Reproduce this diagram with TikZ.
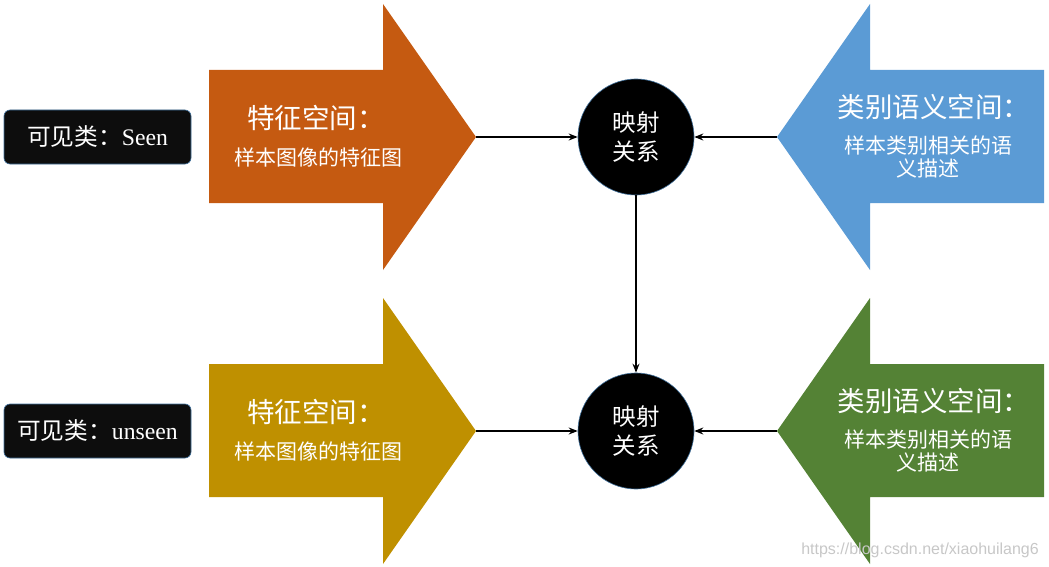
\documentclass[tikz,border=0pt]{standalone}
\usepackage{fontspec}
\setmainfont{Liberation Serif}
\newfontfamily\cjk{Noto Sans CJK SC}
\newfontfamily\wmfont{Liberation Sans}
\usetikzlibrary{arrows.meta}
\definecolor{corange}{HTML}{C55A11}
\definecolor{cgold}{HTML}{BF9000}
\definecolor{cblue}{HTML}{5B9BD5}
\definecolor{cgreen}{HTML}{548235}
\definecolor{cdark}{HTML}{0D0D0D}
\definecolor{cedge}{HTML}{41719C}
\begin{document}
\begin{tikzpicture}[x=1pt,y=-1pt,
  conn/.style={-{Stealth[length=9pt,width=7pt]}, line width=2.4pt, black},
  circ/.style={circle, fill=black, draw=cedge, line width=0.6pt, minimum size=116pt, inner sep=0pt,
    text=white, align=center, font=\cjk\fontsize{23.5}{29}\selectfont},
  lab/.style={rectangle, rounded corners=6pt, fill=cdark, draw=cedge, line width=0.6pt,
    minimum width=187pt, minimum height=54pt, inner sep=0pt, text=white, font=\fontsize{23.7}{26}\selectfont},
  ttl/.style={text=white, font=\cjk\fontsize{27.5}{30}\selectfont, inner sep=0pt},
  sub/.style={text=white, align=center, font=\cjk\fontsize{21}{23}\selectfont, inner sep=0pt}]
\useasboundingbox (0,0) rectangle (1049,567);

% top-left orange arrow
\fill[corange] (209,70) -- (383,70) -- (383,4) -- (476,137) -- (383,270) -- (383,203) -- (209,203) -- cycle;
\coordinate (tipA) at (476,137);
\node[ttl] (tA) at (316,118) {特征空间：};
\node[sub] (sA) at (318,157) {样本图像的特征图};

% bottom-left gold arrow
\fill[cgold] (209,364) -- (383,364) -- (383,298) -- (476,431) -- (383,564) -- (383,497) -- (209,497) -- cycle;
\coordinate (tipB) at (476,431);
\node[ttl] (tB) at (316,412) {特征空间：};
\node[sub] (sB) at (318,451) {样本图像的特征图};

% top-right blue arrow
\fill[cblue] (1044,70) -- (870,70) -- (870,4) -- (777,137) -- (870,270) -- (870,203) -- (1044,203) -- cycle;
\coordinate (tipC) at (777,137);
\node[ttl] (tC) at (934,107) {类别语义空间：};
\node[sub] (sC) at (928,157) {样本类别相关的语\\义描述};

% bottom-right green arrow
\fill[cgreen] (1044,364) -- (870,364) -- (870,298) -- (777,431) -- (870,564) -- (870,497) -- (1044,497) -- cycle;
\coordinate (tipD) at (777,431);
\node[ttl] (tD) at (934,401) {类别语义空间：};
\node[sub] (sD) at (928,451) {样本类别相关的语\\义描述};

% circles
\node[circ] (m1) at (636,137) {映射\\关系};
\node[circ] (m2) at (636,431) {映射\\关系};

% labels
\node[lab] (l1) at (97.5,137) {{\cjk 可见类：}Seen};
\node[lab] (l2) at (97.5,431) {{\cjk 可见类：}unseen};

% connectors
\draw[conn] (tipA) -- (m1.west);
\draw[conn] (tipC) -- (m1.east);
\draw[conn] (tipB) -- (m2.west);
\draw[conn] (tipD) -- (m2.east);
\draw[conn] (m1.south) -- (m2.north);

% watermark
\node[text=black!22, font=\wmfont\fontsize{16}{18}\selectfont, inner sep=0pt, anchor=east] (wm) at (1039,550) {https://blog.csdn.net/xiaohuilang6};
\end{tikzpicture}
\end{document}
